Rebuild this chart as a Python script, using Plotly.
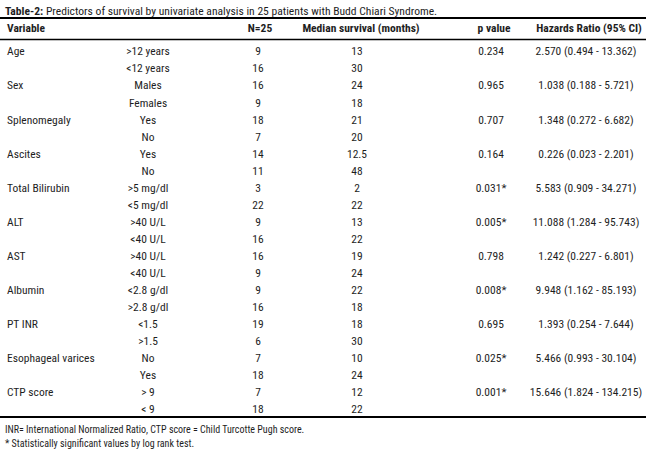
import plotly.graph_objects as go

# ---------------- data ----------------
variables = ["Age", "Sex", "Splenomegaly", "Ascites", "Total Bilirubin", "ALT", "AST",
             "Albumin", "PT INR", "Esophageal varices", "CTP score"]
subgroups = [">12 years", "<12 years", "Males", "Females", "Yes", "No", "Yes", "No",
             ">5 mg/dl", "<5 mg/dl", ">40 U/L", "<40 U/L", ">40 U/L", "<40 U/L",
             "<2.8 g/dl", ">2.8 g/dl", "<1.5", ">1.5", "No", "Yes", "> 9", "< 9"]
n_patients = [9, 16, 16, 9, 18, 7, 14, 11, 3, 22, 9, 16, 16, 9, 9, 16, 19, 6, 7, 18, 7, 18]
median_survival = ["13", "30", "24", "18", "21", "20", "12.5", "48", "2", "22", "13", "22",
                   "19", "24", "22", "18", "18", "30", "10", "24", "12", "22"]
p_values = ["0.234", "0.965", "0.707", "0.164", "0.031*", "0.005*", "0.798", "0.008*",
            "0.695", "0.025*", "0.001*"]
hazard_ratios = ["2.570 (0.494 - 13.362)", "1.038 (0.188 - 5.721)", "1.348 (0.272 - 6.682)",
                 "0.226 (0.023 - 2.201)", "5.583 (0.909 - 34.271)", "11.088 (1.284 - 95.743)",
                 "1.242 (0.227 - 6.801)", "9.948 (1.162 - 85.193)", "1.393 (0.254 - 7.644)",
                 "5.466 (0.993 - 30.104)", "15.646 (1.824 - 134.215)"]
headers = ["Variable", "", "N=25", "Median survival (months)", "p value", "Hazards Ratio (95% CI)"]
title = "Predictors of survival by univariate analysis in 25 patients with Budd Chiari Syndrome."
title_label = "Table-2:"
footnotes = ["INR= International Normalized Ratio, CTP score = Child Turcotte Pugh score.",
             "* Statistically significant values by log rank test."]

# ---------------- layout helpers ----------------
W, H = 650, 454
ROW0_PX, PITCH = 52.5, 17.05


def py(px):
    """convert a window pixel row position to the row-index axis"""
    return (px - ROW0_PX) / PITCH


def esc(s):
    return s.replace("<", "&lt;").replace(">", "&gt;")


FONT = "Roboto Condensed, DejaVu Sans Condensed, sans-serif"
TXT = "#1e1e1e"
FS = 11.5

col_x = {"var": 7, "sub": 148, "n": 258, "med": 357, "p": 491, "hr": 586}

rows = list(range(len(subgroups)))
var_rows = rows[0::2]

fig = go.Figure()


def text_trace(xs, ys, texts, pos, bold=False, size=FS):
    fig.add_trace(go.Scatter(
        x=xs, y=ys, text=[("<b>%s</b>" % esc(t)) if bold else esc(t) for t in texts],
        mode="text", textposition=pos, hoverinfo="skip", showlegend=False, cliponaxis=False,
        textfont=dict(family=FONT, size=size, color=TXT)))


text_trace([col_x["var"]] * len(variables), var_rows, variables, "middle right")
text_trace([col_x["sub"]] * len(subgroups), rows, subgroups, "middle center")
text_trace([col_x["n"]] * len(rows), rows, [str(v) for v in n_patients], "middle center")
text_trace([col_x["med"]] * len(rows), rows, median_survival, "middle center")
text_trace([col_x["p"]] * len(p_values), var_rows, p_values, "middle center")
text_trace([col_x["hr"]] * len(hazard_ratios), var_rows, hazard_ratios, "middle center")

# header row
hy = py(29.5)
text_trace([col_x["var"]], [hy], [headers[0]], "middle right", bold=True)
text_trace([col_x["n"] + 2, col_x["med"] + 4, col_x["p"] + 3, col_x["hr"] + 3], [hy] * 4,
           [headers[2], headers[3], headers[4], headers[5]], "middle center", bold=True)

# title
fig.add_annotation(x=3, y=py(10.5), xref="x", yref="y", xanchor="left", yanchor="middle",
                   showarrow=False, text="<b>%s</b> %s" % (title_label, title),
                   font=dict(family=FONT, size=11.6, color=TXT))
# footnotes
for t, ypx in zip(footnotes, [429, 443]):
    fig.add_annotation(x=3, y=py(ypx), xref="x", yref="y", xanchor="left", yanchor="middle",
                       showarrow=False, text=esc(t),
                       font=dict(family=FONT, size=10, color=TXT))

# rules
for ypx, wdt in [(18, 2), (39.5, 1.3), (417, 2)]:
    fig.add_shape(type="line", xref="x", yref="y", x0=0, x1=646, y0=py(ypx), y1=py(ypx),
                  line=dict(color="#000000", width=wdt))

fig.update_layout(
    width=W, height=H, autosize=False,
    margin=dict(l=0, r=0, t=0, b=0),
    paper_bgcolor="white", plot_bgcolor="white",
    xaxis=dict(range=[0, W], visible=False, fixedrange=True),
    yaxis=dict(range=[py(H), py(0)], visible=False, fixedrange=True),
)

fig.write_html("out.html", config={"displayModeBar": False},
               post_script="document.body.style.margin='0';document.body.style.overflow='hidden';")
